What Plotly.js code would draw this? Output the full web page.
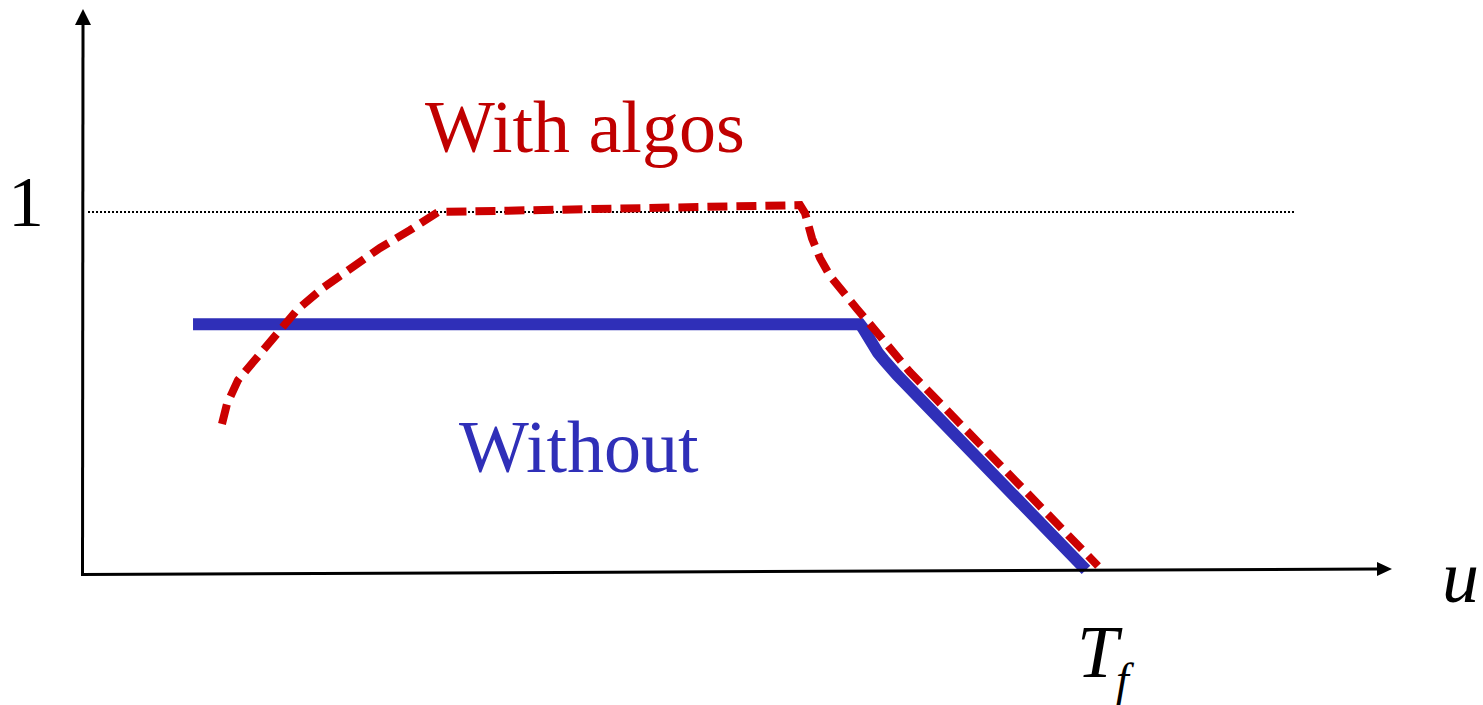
<!DOCTYPE html>
<html>
<head>
<meta charset="utf-8">
<script src="https://cdn.plot.ly/plotly-3.0.1.min.js"></script>
<style>html,body{margin:0;padding:0;background:#fff;}#chart{width:1483px;height:705px;}</style>
</head>
<body>
<div id="chart"></div>
<script>
// Series: u (time, T_f = 1) and normalized level (1 = dotted reference)
const withAlgosU = [0.1387,0.1437,0.1547,0.1737,0.1936,0.2136,0.2395,0.2665,0.2964,0.3263,0.3543,0.7156,0.7206,0.7275,0.7355,0.7455,0.7575,0.7725,0.7854,0.8054,0.8253,1.0130];
const withAlgosY = [0.416,0.471,0.537,0.601,0.669,0.730,0.791,0.846,0.901,0.950,1.000,1.019,0.997,0.928,0.873,0.824,0.780,0.733,0.691,0.625,0.559,0.025];
const withoutU = [0.1098,0.7754,0.7784,0.7814,0.7844,0.7884,0.7934,0.7994,0.8064,0.8124,1.0010];
const withoutY = [0.691,0.691,0.680,0.664,0.645,0.628,0.612,0.592,0.570,0.551,0.014];
const refLevel = 1;
const refStartU = 0.005, refEndU = 1.2096;
const labels = {withAlgos: "With algos", without: "Without", yTick: "1", xLabel: "u", tEnd: "T", tSub: "f"};

// pixel helpers for placing decorations (layout only)
const X = px => (px - 83) / 1002;
const Y = py => (575 - py) / 363;

const red = "#CC0000", blue = "#2F2FB8";

const traces = [
  {x: [refStartU, refEndU], y: [refLevel, refLevel], mode: "lines",
   line: {color: "#000", width: 2, dash: "2px,2px"}, hoverinfo: "skip"},
  {x: withoutU, y: withoutY, mode: "lines", line: {color: blue, width: 12}, hoverinfo: "skip"},
  {x: withAlgosU, y: withAlgosY, mode: "lines", line: {color: red, width: 8, dash: "20px,9px"}, hoverinfo: "skip"}
];

const shapes = [
  // y axis
  {type: "line", xref: "x", yref: "y", x0: X(82.5), y0: Y(576), x1: X(83), y1: Y(24), line: {color: "#000", width: 3}},
  {type: "path", xref: "x", yref: "y",
   path: `M ${X(83)} ${Y(9)} L ${X(75)} ${Y(25)} L ${X(91)} ${Y(25)} Z`, fillcolor: "#000", line: {color: "#000", width: 0}},
  // x axis
  {type: "line", xref: "x", yref: "y", x0: X(81), y0: Y(574.5), x1: X(1378), y1: Y(569), line: {color: "#000", width: 3}},
  {type: "path", xref: "x", yref: "y",
   path: `M ${X(1392)} ${Y(569)} L ${X(1377)} ${Y(562)} L ${X(1377)} ${Y(576)} Z`, fillcolor: "#000", line: {color: "#000", width: 0}}
];

const font = "Liberation Serif, Times New Roman, serif";
const ann = (txt, px, py, size, color, italic) => ({
  text: txt, x: X(px), y: Y(py), xref: "x", yref: "y", showarrow: false,
  xanchor: "center", yanchor: "middle",
  font: {family: font, size: size, color: color, style: italic ? "italic" : "normal"}
});

const annotations = [
  ann(labels.withAlgos, 585, 127, 74, "#C00000", false),
  ann(labels.without, 579, 447, 74, blue, false),
  ann(labels.yTick, 26, 202, 72, "#000", false),
  ann(labels.xLabel, 1460, 577, 74, "#000", true),
  ann(labels.tEnd, 1100, 652, 74, "#000", true),
  ann(labels.tSub, 1125, 679, 46, "#000", true)
];

const layout = {
  width: 1483, height: 705,
  margin: {l: 0, r: 0, t: 0, b: 0},
  paper_bgcolor: "#fff", plot_bgcolor: "#fff",
  showlegend: false,
  xaxis: {range: [X(0), X(1483)], visible: false, fixedrange: true},
  yaxis: {range: [Y(705), Y(0)], visible: false, fixedrange: true},
  shapes: shapes,
  annotations: annotations
};

Plotly.newPlot("chart", traces, layout, {staticPlot: true, displayModeBar: false});
</script>
</body>
</html>
